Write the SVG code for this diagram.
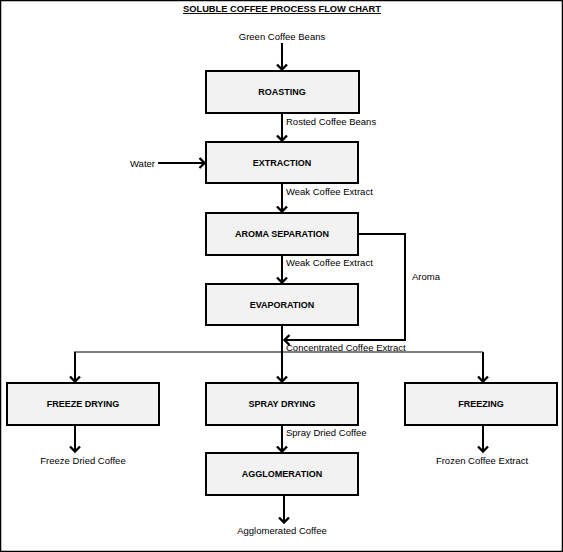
<svg xmlns="http://www.w3.org/2000/svg" width="563" height="552" viewBox="0 0 563 552">
<defs>
<style>
.box{fill:#f2f2f2;stroke:#000;stroke-width:2}
.bl{font-family:"Liberation Sans",Arial,sans-serif;font-size:9px;font-weight:bold;text-anchor:middle;fill:#000}
.lb{font-family:"Liberation Sans",Arial,sans-serif;font-size:9.5px;fill:#000}
.c{stroke:#000;stroke-width:2;fill:none}
.thin{stroke:#000;stroke-width:1;fill:none}
</style>
<marker id="ah" markerUnits="userSpaceOnUse" markerWidth="14" markerHeight="14" viewBox="-8 -7 10 14" refX="0" refY="0" orient="auto">
<path d="M-5.5,-5 L-0.5,0 L-5.5,5" fill="none" stroke="#000" stroke-width="2.4"/>
</marker>
</defs>
<rect x="0.5" y="0.5" width="562" height="551" fill="#fff" stroke="#000" stroke-width="1.5"/>
<text x="282" y="12" font-family="'Liberation Sans',Arial,sans-serif" font-size="9.5" font-weight="bold" text-anchor="middle" text-decoration="underline" textLength="198" lengthAdjust="spacingAndGlyphs">SOLUBLE COFFEE PROCESS FLOW CHART</text>
<g id="connectors">
<line class="c" x1="282" y1="43" x2="282" y2="70" marker-end="url(#ah)"/>
<line class="c" x1="282" y1="114" x2="282" y2="141" marker-end="url(#ah)"/>
<line class="c" x1="158" y1="163" x2="205" y2="163" marker-end="url(#ah)"/>
<line class="c" x1="282" y1="184" x2="282" y2="212" marker-end="url(#ah)"/>
<line class="c" x1="282" y1="256" x2="282" y2="283" marker-end="url(#ah)"/>
<polyline class="c" points="359,234 405,234 405,340 284,340" marker-end="url(#ah)"/>
<line class="c" x1="282" y1="326" x2="282" y2="382" marker-end="url(#ah)"/>
<line class="thin" x1="74" y1="352" x2="483" y2="352"/>
<polyline class="c" points="75,352 75,382" marker-end="url(#ah)"/>
<polyline class="c" points="483,352 483,382" marker-end="url(#ah)"/>
<line class="c" x1="75" y1="426" x2="75" y2="452" marker-end="url(#ah)"/>
<line class="c" x1="282" y1="426" x2="282" y2="452" marker-end="url(#ah)"/>
<line class="c" x1="483" y1="426" x2="483" y2="452" marker-end="url(#ah)"/>
<line class="c" x1="284" y1="496" x2="284" y2="523" marker-end="url(#ah)"/>
</g>
<g id="labels">
<text class="lb" x="282" y="40" text-anchor="middle">Green Coffee Beans</text>
<text class="lb" x="286" y="125">Rosted Coffee Beans</text>
<text class="lb" x="130" y="167">Water</text>
<text class="lb" x="286" y="195">Weak Coffee Extract</text>
<text class="lb" x="286" y="266">Weak Coffee Extract</text>
<text class="lb" x="412" y="280">Aroma</text>
<text class="lb" x="286" y="351">Concentrated Coffee Extract</text>
<text class="lb" x="286" y="436">Spray Dried Coffee</text>
<text class="lb" x="83" y="464" text-anchor="middle">Freeze Dried Coffee</text>
<text class="lb" x="482" y="464" text-anchor="middle">Frozen Coffee Extract</text>
<text class="lb" x="282" y="534" text-anchor="middle">Agglomerated Coffee</text>
</g>
<g id="roasting"><rect class="box" x="206" y="71" width="153" height="42"/><text class="bl" x="282" y="95">ROASTING</text></g>
<g id="extraction"><rect class="box" x="206" y="142" width="152" height="41"/><text class="bl" x="282" y="166">EXTRACTION</text></g>
<g id="aroma-separation"><rect class="box" x="206" y="213" width="152" height="42"/><text class="bl" x="282" y="237">AROMA SEPARATION</text></g>
<g id="evaporation"><rect class="box" x="206" y="284" width="152" height="41"/><text class="bl" x="282" y="308">EVAPORATION</text></g>
<g id="freeze-drying"><rect class="box" x="7" y="383" width="152" height="42"/><text class="bl" x="83" y="407">FREEZE DRYING</text></g>
<g id="spray-drying"><rect class="box" x="206" y="383" width="152" height="42"/><text class="bl" x="282" y="407">SPRAY DRYING</text></g>
<g id="freezing"><rect class="box" x="405" y="383" width="152" height="42"/><text class="bl" x="481" y="407">FREEZING</text></g>
<g id="agglomeration"><rect class="box" x="206" y="453" width="152" height="42"/><text class="bl" x="282" y="477">AGGLOMERATION</text></g>
</svg>
